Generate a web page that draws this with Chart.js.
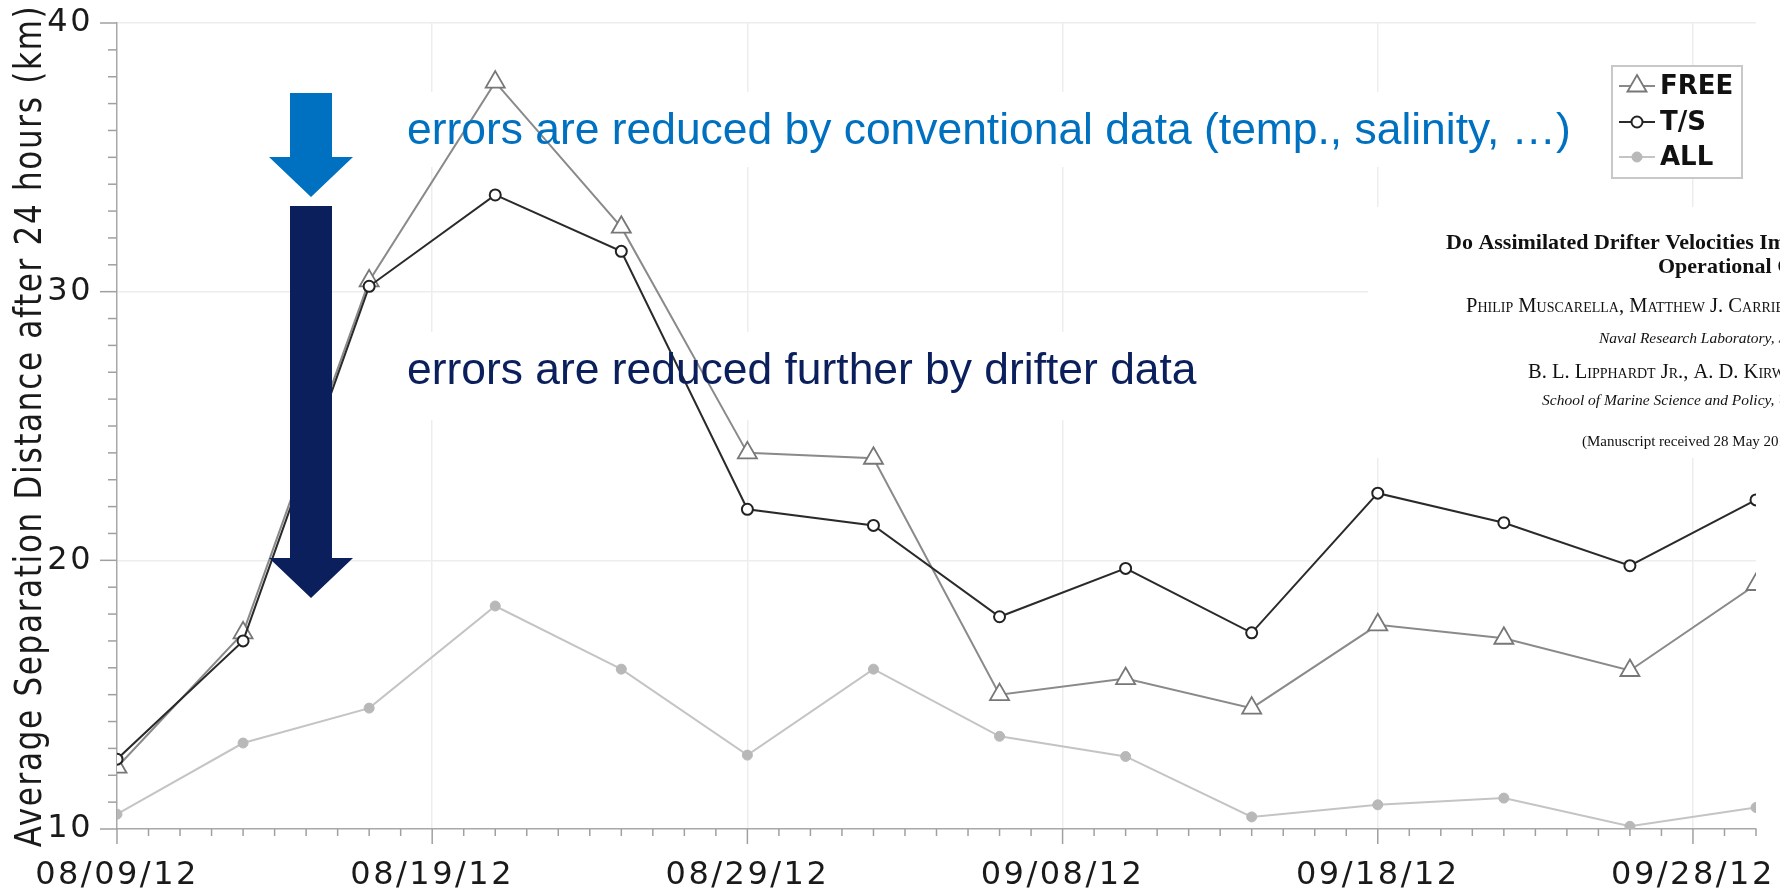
<!DOCTYPE html>
<html>
<head>
<meta charset="utf-8">
<script src="https://cdn.jsdelivr.net/npm/chart.js@4.4.0/dist/chart.umd.min.js"></script>
<style>
  html, body { margin: 0; padding: 0; background: #fff; }
  #wrap { width: 1780px; height: 892px; }
</style>
</head>
<body>
<div id="wrap"><canvas id="chart"></canvas></div>
<script>
// separation distance after 24 h (km), one value every 4 days
const startDay = '2012-08-09';
const obsDates = ['2012-08-09', '2012-08-13', '2012-08-17', '2012-08-21', '2012-08-25', '2012-08-29', '2012-09-02',
                  '2012-09-06', '2012-09-10', '2012-09-14', '2012-09-18', '2012-09-22', '2012-09-26', '2012-09-30'];
const freeSep = [12.3, 17.3, 30.4, 37.8, 32.4, 24.0, 23.8, 15.0, 15.6, 14.5, 17.6, 17.1, 15.9, 19.1];
const tsSep   = [12.6, 17.0, 30.2, 33.6, 31.5, 21.9, 21.3, 17.9, 19.7, 17.3, 22.5, 21.4, 19.8, 22.25];
const allSep  = [10.55, 13.2, 14.5, 18.3, 15.95, 12.75, 15.95, 13.45, 12.7, 10.45, 10.9, 11.15, 10.1, 10.8];
const xTickLabels = ['08/09/12', '08/19/12', '08/29/12', '09/08/12', '09/18/12', '09/28/12'];
const yTickLabels = ['10', '20', '30', '40'];
const yTitle = 'Average Separation Distance after 24 hours (km)';

const dayOf = d => Math.round((Date.parse(d) - Date.parse(startDay)) / 864e5);
const toPts = vals => obsDates.map((d, i) => ({ x: dayOf(d), y: vals[i] }));

const BLUE = '#0070c0';
const NAVY = '#0a1f5c';

function arrow(ctx, cx, top, headTop, tip, shaftHalf, headHalf, color) {
  ctx.fillStyle = color;
  ctx.beginPath();
  ctx.moveTo(cx - shaftHalf, top);
  ctx.lineTo(cx + shaftHalf, top);
  ctx.lineTo(cx + shaftHalf, headTop);
  ctx.lineTo(cx + headHalf, headTop);
  ctx.lineTo(cx, tip);
  ctx.lineTo(cx - headHalf, headTop);
  ctx.lineTo(cx - shaftHalf, headTop);
  ctx.closePath();
  ctx.fill();
}

const decor = {
  id: 'decor',
  beforeDraw(chart) {
    // the original figure is a bit stretched sideways, spacing mimics that
    chart.ctx.letterSpacing = '2.5px';
  },
  beforeDatasetsDraw(chart) {
    const { ctx, scales: { x, y } } = chart;
    ctx.save();
    // pasted text boxes hide the grid behind them
    ctx.fillStyle = '#fff';
    ctx.fillRect(400, 92, 1180, 75);
    ctx.fillRect(400, 332, 805, 88);
    ctx.fillRect(1368, 207, 412, 251);
    // tick marks, long on the labelled ones
    ctx.strokeStyle = '#a0a0a0';
    ctx.lineWidth = 1.5;
    x.ticks.forEach(t => {
      const px = x.getPixelForValue(t.value);
      const len = t.value % 10 === 0 ? 15 : 7;
      ctx.beginPath(); ctx.moveTo(px, y.bottom); ctx.lineTo(px, y.bottom + len); ctx.stroke();
    });
    y.ticks.forEach(t => {
      const py = y.getPixelForValue(t.value);
      const len = t.value % 10 === 0 ? 17 : 9;
      ctx.beginPath(); ctx.moveTo(x.left - len, py); ctx.lineTo(x.left, py); ctx.stroke();
    });

    // y axis title, stretched like the source image
    ctx.letterSpacing = '1.7px';
    ctx.translate(31, (y.top + y.bottom) / 2);
    ctx.rotate(-Math.PI / 2);
    ctx.scale(1, 1.2);
    ctx.fillStyle = '#1a1a1a';
    ctx.font = '31px "DejaVu Sans", sans-serif';
    ctx.textAlign = 'center';
    ctx.textBaseline = 'middle';
    ctx.fillText(yTitle, 0, 0);
    ctx.restore();
  },
  afterDatasetsDraw(chart) {
    const ctx = chart.ctx;
    ctx.save();
    ctx.letterSpacing = '0px';

    arrow(ctx, 311, 93, 157, 197, 21, 42, BLUE);
    arrow(ctx, 311, 206, 558, 598, 21, 42, NAVY);

    ctx.textBaseline = 'alphabetic';
    ctx.textAlign = 'left';
    ctx.font = '44.4px "Liberation Sans", Arial, sans-serif';
    ctx.fillStyle = BLUE;
    ctx.fillText('errors are reduced by conventional data (temp., salinity, \u2026)', 407, 144);
    ctx.fillStyle = NAVY;
    ctx.fillText('errors are reduced further by drifter data', 407, 384);

    // paper header snippet
    ctx.fillStyle = '#111';
    ctx.font = 'bold 22px "Liberation Serif", "Times New Roman", serif';
    ctx.fillText('Do Assimilated Drifter Velocities Improve', 1446, 249);
    ctx.fillText('Operational Ocean', 1658, 273);
    ctx.font = 'small-caps 20.5px "Liberation Serif", "Times New Roman", serif';
    ctx.fillText('Philip Muscarella, Matthew J. Carrier', 1466, 312);
    ctx.fillText('B. L. Lipphardt Jr., A. D. Kirwan', 1528, 378);
    ctx.font = 'italic 15.5px "Liberation Serif", "Times New Roman", serif';
    ctx.fillText('Naval Research Laboratory, Stennis', 1599, 343);
    ctx.fillText('School of Marine Science and Policy, University', 1542, 405);
    ctx.font = '15px "Liberation Serif", "Times New Roman", serif';
    ctx.fillText('(Manuscript received 28 May 2014', 1582, 446);

    // legend box
    ctx.fillStyle = '#fff';
    ctx.fillRect(1612, 66, 130, 112);
    ctx.strokeStyle = '#c8c8c8';
    ctx.lineWidth = 2;
    ctx.strokeRect(1612, 66, 130, 112);
    const rows = [86, 122, 157];
    const radii = [11, 5.5, 5];
    chart.data.datasets.forEach((ds, i) => {
      const cy = rows[i];
      ctx.strokeStyle = ds.borderColor;
      ctx.lineWidth = 2;
      ctx.beginPath(); ctx.moveTo(1619, cy); ctx.lineTo(1655, cy); ctx.stroke();
      ctx.fillStyle = ds.pointBackgroundColor;
      ctx.strokeStyle = ds.pointBorderColor;
      ctx.lineWidth = ds.pointBorderWidth;
      Chart.helpers.drawPoint(ctx, { pointStyle: ds.pointStyle, radius: radii[i], rotation: 0, borderWidth: ds.pointBorderWidth }, 1637, cy);
      ctx.fillStyle = '#111';
      ctx.font = 'bold 26px "DejaVu Sans", sans-serif';
      ctx.textBaseline = 'middle';
      ctx.fillText(ds.label, 1660, cy + 1);
    });
    ctx.restore();
  }
};

new Chart(document.getElementById('chart'), {
  type: 'line',
  data: {
    datasets: [
      {
        label: 'FREE',
        data: toPts(freeSep),
        borderColor: '#8a8a8a',
        borderWidth: 2,
        pointStyle: 'triangle',
        pointRadius: 11,
        pointBackgroundColor: '#fff',
        pointBorderColor: '#777',
        pointBorderWidth: 1.8,
        order: 1
      },
      {
        label: 'T/S',
        data: toPts(tsSep),
        borderColor: '#2a2a2a',
        borderWidth: 2,
        pointStyle: 'circle',
        pointRadius: 5.5,
        pointBackgroundColor: '#fff',
        pointBorderColor: '#222',
        pointBorderWidth: 2,
        order: 0
      },
      {
        label: 'ALL',
        data: toPts(allSep),
        borderColor: '#c4c4c4',
        borderWidth: 2,
        pointStyle: 'circle',
        pointRadius: 5,
        pointBackgroundColor: '#b8b8b8',
        pointBorderColor: '#b8b8b8',
        pointBorderWidth: 1,
        order: 2
      }
    ]
  },
  options: {
    responsive: true,
    maintainAspectRatio: false,
    animation: false,
    layout: { padding: { top: 23, right: 24, left: 0, bottom: 0 } },
    plugins: {
      legend: { display: false },
      tooltip: { enabled: false }
    },
    scales: {
      x: {
        type: 'linear',
        min: 0,
        max: 52,
        // fixed band; no extra side padding from tick labels
        afterFit: s => { s.height = 63; s.paddingLeft = 0; s.paddingRight = 0; },
        ticks: {
          stepSize: 1,
          autoSkip: false,
          maxRotation: 0,
          maxTicksLimit: 100,
          padding: 27,
          color: '#1a1a1a',
          font: { family: '"DejaVu Sans", sans-serif', size: 32 },
          callback: v => (v % 10 === 0 ? xTickLabels[v / 10] : '')
        },
        grid: {
          drawTicks: false,
          lineWidth: 1.5,
          color: c => (c.tick && c.tick.value % 10 === 0 && c.tick.value > 0 ? '#ededed' : 'rgba(0,0,0,0)')
        },
        border: { color: '#a8a8a8', width: 1.5 }
      },
      y: {
        min: 10,
        max: 40,
        afterFit: s => { s.width = 117; s.paddingTop = 0; s.paddingBottom = 0; },
        ticks: {
          stepSize: 1,
          autoSkip: false,
          maxTicksLimit: 100,
          padding: 24,
          color: '#1a1a1a',
          font: { family: '"DejaVu Sans", sans-serif', size: 32 },
          callback: v => (v % 10 === 0 ? yTickLabels[(v - 10) / 10] : '')
        },
        grid: {
          drawTicks: false,
          lineWidth: 1.5,
          color: c => (c.tick && c.tick.value % 10 === 0 && c.tick.value > 10 ? '#ededed' : 'rgba(0,0,0,0)')
        },
        border: { color: '#a8a8a8', width: 1.5 }
      }
    }
  },
  plugins: [decor]
});
</script>
</body>
</html>
